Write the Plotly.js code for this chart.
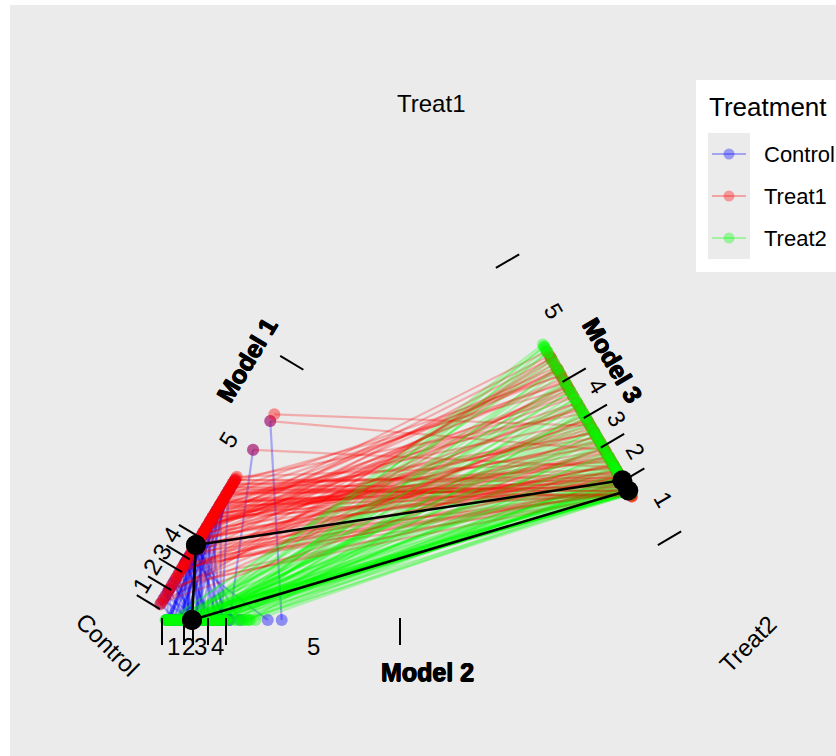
<!DOCTYPE html>
<html><head><meta charset="utf-8">
<script src="https://cdn.plot.ly/plotly-3.0.1.min.js"></script>
<style>html,body{margin:0;padding:0;background:#fff}</style>
</head><body><div id="chart" style="width:836px;height:756px"></div>
<script>
// ---------------- DATA ----------------
const treatments = ['Control', 'Treat1', 'Treat2'];
const models = ['Model 1', 'Model 2', 'Model 3'];
const tickValues = [1, 2, 3, 4, 5];
const tickLabels = ['1', '2', '3', '4', '5'];

// Control subjects: scores on Model 1 and Model 2
const control_m1 = [0.72, 1.35, 2.1, 4.62, 3.3, 4.7, 4.05, 4.3, 4.52, 4.6, 1.9, 4.76, 3.1, 3.9, 4.2, 4.45, 4.68, 4.75, 0.95, 4.56,
  2.35, 3.6, 4.15, 4.4, 4.55, 4.82, 3.45, 4.66, 4.1, 4.58, 4.7, 1.15, 3.85, 5.02, 5.19,
  4.8, 1.5, 4.53, 3.0, 3.65, 4.25, 4.5, 4.72, 1.75, 4.64, 3.2, 3.95, 4.35, 4.62, 4.84, 1.45, 4.59, 2.7, 3.5, 4.0, 4.48, 4.66, 4.78, 3.15, 4.78];
const control_m2 = [1.1, 0.75, 2.3, 1.8, 3.2, 2.6, 0.9, 3.9, 1.4, 4.3, 2.05, 1.25, 3.6, 2.8, 4.52, 1.65, 0.7, 3.0, 2.2, 4.1,
  1.95, 3.4, 4.58, 0.85, 2.7, 1.5, 4.74, 3.75, 2.45, 1.05, 4.2, 3.1, 2.9, 4.52, 4.82,
  0.8, 1.6, 1.0, 2.4, 1.9, 3.3, 2.1, 0.72, 2.95, 1.3, 3.7, 1.75, 4.0, 2.55, 1.15, 0.95, 3.5, 2.25, 1.45, 4.4, 3.05, 1.85, 2.65, 0.88, 4.25];

// Treat1 subjects: scores on Model 1 and Model 3
const treat1_m1 = [4.62, 3.85, 4.71, 2.4, 4.55, 4.8, 1.3, 4.66, 3.2, 4.52,
  4.77, 0.68, 4.59, 4.84, 2.9, 4.7, 4.05, 4.63, 1.9, 4.74,
  4.51, 3.6, 4.82, 4.57, 2.15, 4.68, 4.35, 4.79, 0.95, 4.64,
  4.53, 3.95, 4.86, 4.6, 2.65, 4.73, 4.25, 4.56, 1.55, 4.69,
  4.81, 3.35, 4.65, 4.54, 4.45, 4.76, 2.05, 4.61, 4.83, 3.75,
  4.58, 4.67, 1.1, 4.72, 4.5, 4.15, 4.78, 3.05, 4.62, 4.85,
  2.75, 4.55, 4.7, 4.4, 1.7, 4.75, 4.6, 5.02, 5.19, 5.23,
  4.57, 4.73, 3.5, 4.64, 4.8, 2.3, 4.52, 4.69, 4.0, 4.61,
  4.84, 1.45, 4.56, 4.76, 3.0, 4.66, 4.53, 4.3, 4.71, 4.59,
  0.8, 4.78, 4.63, 3.7, 4.54, 4.82, 2.55, 4.68, 4.5, 4.74];
const treat1_m3 = [1.3, 2.6, 1.45, 3.9, 1.8, 1.26, 4.4, 2.1, 1.6, 3.3,
  1.35, 4.7, 2.4, 1.5, 1.28, 3.7, 1.95, 4.58, 1.4, 2.8,
  4.2, 1.32, 1.7, 3.1, 4.65, 1.55, 2.3, 1.25, 3.55, 1.9,
  4.52, 1.38, 2.05, 4.76, 1.65, 2.95, 1.3, 4.05, 1.48, 2.5,
  1.85, 3.8, 1.27, 4.6, 2.2, 1.42, 3.4, 1.75, 4.3, 1.33,
  2.7, 1.58, 4.68, 1.29, 3.0, 1.95, 4.55, 1.36, 2.15, 3.6,
  1.44, 4.72, 1.62, 2.35, 1.31, 4.45, 1.52, 1.9, 2.4, 3.2,
  3.9, 1.3, 4.6, 2.2, 1.45, 4.35, 3.2, 1.27, 4.7, 2.65,
  1.6, 3.45, 4.5, 1.35, 2.0, 4.1, 1.5, 3.75, 1.29, 4.62,
  2.45, 1.4, 3.0, 1.8, 4.25, 1.33, 2.85, 4.55, 1.7, 3.35];

// Treat2 subjects: scores on Model 2 and Model 3
const treat2_m2 = [1.2, 2.3, 0.7, 3.5, 1.8, 4.6, 2.7, 0.9, 4.1, 1.5,
  3.1, 2.0, 4.52, 1.05, 2.55, 3.8, 0.66, 4.3, 1.65, 2.9,
  4.63, 1.35, 3.3, 2.15, 0.8, 3.95, 1.95, 4.55, 2.45, 1.1,
  3.65, 0.95, 2.8, 4.2, 1.45, 3.0, 4.67, 1.7, 2.25, 0.72,
  3.45, 1.25, 4.45, 2.6, 1.9, 3.75, 0.85, 4.58, 2.05, 1.55,
  3.2, 4.0, 1.0, 2.35, 3.9, 1.75, 4.5, 2.95, 0.75, 3.55,
  1.4, 4.62, 2.5, 3.35, 1.15, 4.15, 2.75, 1.6, 3.85, 4.4,
  2.1, 0.78, 3.6, 1.3, 4.48, 2.65, 1.85, 3.25, 0.92, 4.25,
  1.6, 2.85, 4.56, 1.0, 3.7, 2.2, 0.7, 4.05, 1.5, 3.15,
  4.6, 2.4, 1.2, 3.95, 0.82, 2.95, 4.35, 1.75, 3.5, 4.64];
const treat2_m3 = [1.4, 3.2, 1.3, 2.1, 4.6, 1.55, 1.35, 3.8, 1.7, 4.82,
  2.5, 1.32, 1.9, 4.3, 1.45, 2.9, 1.28, 4.75, 1.6, 3.5,
  1.38, 2.2, 4.5, 1.34, 3.0, 1.8, 4.68, 1.5, 2.7, 1.3,
  4.1, 1.42, 3.6, 1.65, 2.35, 4.8, 1.36, 1.95, 3.35, 1.3,
  4.55, 2.05, 1.48, 3.9, 1.33, 2.6, 4.7, 1.75, 1.4, 3.1,
  1.58, 4.4, 2.25, 1.31, 3.7, 1.85, 4.62, 1.44, 2.8, 1.37,
  4.2, 1.52, 3.45, 2.0, 1.3, 4.78, 1.62, 2.45, 1.39, 4.0,
  1.35, 4.65, 1.5, 2.9, 1.3, 4.2, 1.72, 3.3, 1.4, 2.55,
  4.75, 1.32, 3.85, 1.6, 2.15, 4.45, 1.38, 3.05, 1.9, 4.58,
  1.3, 2.75, 4.0, 1.46, 3.55, 1.34, 2.3, 4.8, 1.55, 3.65];

// group means (first model, second model)
const mean_control = [4.14, 2.39];
const mean_treat1 = [4.14, 1.52];
const mean_treat2 = [2.39, 1.35];

// ---------------- GEOMETRY / SCALES ----------------
const corners = { Control: [151, 620], Treat1: [431, 153], Treat2: [704, 620] };
const axisDef = {
  'Model 1': { from: 'Control', to: 'Treat1', breaks: [0.0257, 0.0661, 0.1047, 0.1322, 0.1763, 0.5381] },
  'Model 2': { from: 'Control', to: 'Treat2', breaks: [0.0199, 0.0597, 0.0759, 0.1031, 0.1356, 0.4503] },
  'Model 3': { from: 'Treat2', to: 'Treat1', breaks: [0.1627, 0.2976, 0.3715, 0.4344, 0.5120, 0.7560] }
};
const cen = [(corners.Control[0] + corners.Treat1[0] + corners.Treat2[0]) / 3,
             (corners.Control[1] + corners.Treat1[1] + corners.Treat2[1]) / 3];

function geom(name) {
  const a = axisDef[name];
  const s = corners[a.from], e = corners[a.to];
  const dx = e[0] - s[0], dy = e[1] - s[1];
  const L = Math.hypot(dx, dy);
  const u = [dx / L, dy / L];
  let n = [-u[1], u[0]];
  const mid = [(s[0] + e[0]) / 2, (s[1] + e[1]) / 2];
  if ((mid[0] - cen[0]) * n[0] + (mid[1] - cen[1]) * n[1] < 0) n = [-n[0], -n[1]];
  let ang = Math.atan2(u[1], u[0]) * 180 / Math.PI;
  if (ang < -90) ang += 180;
  if (ang > 90) ang -= 180;
  return { s, u, n, L, mid, b: a.breaks, angle: ang };
}
function frac(b, v) {
  let i = Math.floor(v - 0.5);
  i = Math.max(0, Math.min(4, i));
  const t = v - 0.5 - i;
  return b[i] + t * (b[i + 1] - b[i]);
}
function pt(name, v, off) {
  off = off || 0;
  const g = geom(name);
  const f = frac(g.b, v) * g.L;
  return [g.s[0] + g.u[0] * f + g.n[0] * off, g.s[1] + g.u[1] * f + g.n[1] * off];
}

// ---------------- TRACES ----------------
const colors = { Control: '0,0,255', Treat1: '255,0,0', Treat2: '0,255,0' };
const lineAlpha = { Control: 0.3, Treat1: 0.27, Treat2: 0.27 };
const groups = [
  { t: 'Control', a: 'Model 1', b: 'Model 2', va: control_m1, vb: control_m2, mean: mean_control },
  { t: 'Treat1', a: 'Model 1', b: 'Model 3', va: treat1_m1, vb: treat1_m3, mean: mean_treat1 },
  { t: 'Treat2', a: 'Model 2', b: 'Model 3', va: treat2_m2, vb: treat2_m3, mean: mean_treat2 }
];
const traces = [];
// subject lines, drawn in subject order (groups interleaved)
const maxN = Math.max(...groups.map(g => Math.min(g.va.length, g.vb.length)));
for (let i = 0; i < maxN; i++) {
  groups.forEach(g => {
    if (i >= Math.min(g.va.length, g.vb.length)) return;
    const p = pt(g.a, g.va[i]), q = pt(g.b, g.vb[i]);
    traces.push({ type: 'scatter', mode: 'lines', x: [p[0], q[0]], y: [p[1], q[1]],
      line: { color: 'rgba(' + colors[g.t] + ',' + lineAlpha[g.t] + ')', width: 2.2 }, hoverinfo: 'skip', showlegend: false });
  });
}
// subject points
groups.forEach(g => {
  const xs = [], ys = [];
  const n = Math.min(g.va.length, g.vb.length);
  for (let i = 0; i < n; i++) {
    const p = pt(g.a, g.va[i]), q = pt(g.b, g.vb[i]);
    xs.push(p[0], q[0]); ys.push(p[1], q[1]);
  }
  traces.push({ type: 'scatter', mode: 'markers', x: xs, y: ys, name: g.t,
    marker: { color: 'rgba(' + colors[g.t] + ',0.4)', size: 12, line: { width: 0 } }, hoverinfo: 'skip', showlegend: false });
});
// axis ticks (bin boundaries)
const tkx = [], tky = [];
models.forEach(m => {
  [0.5, 1.5, 2.5, 3.5, 4.5, 5.5].forEach(v => {
    const a = pt(m, v, -2), b = pt(m, v, 25);
    tkx.push(a[0], b[0], null); tky.push(a[1], b[1], null);
  });
});
traces.push({ type: 'scatter', mode: 'lines', x: tkx, y: tky, line: { color: '#000', width: 2 }, hoverinfo: 'skip', showlegend: false });
// group means
groups.forEach(g => {
  const p = pt(g.a, g.mean[0]), q = pt(g.b, g.mean[1]);
  traces.push({ type: 'scatter', mode: 'lines+markers', x: [p[0], q[0]], y: [p[1], q[1]],
    line: { color: '#000', width: 2.5 }, marker: { color: '#000', size: 20 }, hoverinfo: 'skip', showlegend: false });
});

// ---------------- LEGEND (drawn) ----------------
const legendKeyY = [154, 196, 238];
treatments.forEach((t, i) => {
  traces.push({ type: 'scatter', mode: 'lines', x: [712, 746], y: [legendKeyY[i], legendKeyY[i]],
    line: { color: 'rgba(' + colors[t] + ',0.3)', width: 2 }, hoverinfo: 'skip', showlegend: false });
  traces.push({ type: 'scatter', mode: 'markers', x: [729], y: [legendKeyY[i]],
    marker: { color: 'rgba(' + colors[t] + ',0.35)', size: 11 }, hoverinfo: 'skip', showlegend: false });
});

// ---------------- ANNOTATIONS ----------------
const FONT = 'Liberation Sans, Arial, Helvetica, sans-serif';
const ann = [];
models.forEach(m => {
  const g = geom(m);
  tickValues.forEach((v, k) => {
    const p = pt(m, v, 26);
    ann.push({ xref: 'x', yref: 'y', x: p[0], y: p[1], text: tickLabels[k], showarrow: false, textangle: g.angle,
      xanchor: 'center', yanchor: 'middle', borderpad: 0, font: { family: FONT, size: 24, color: '#000' } });
  });
  const mp = [g.mid[0] + g.n[0] * 52, g.mid[1] + g.n[1] * 52];
  ann.push({ xref: 'x', yref: 'y', x: mp[0], y: mp[1], text: '<b>' + m + '</b>', showarrow: false, textangle: g.angle,
    xanchor: 'center', yanchor: 'middle',
    font: { family: FONT, size: 25, color: '#000', shadow: '0.6px 0px 0px #000, -0.6px 0px 0px #000, 0px 0.6px 0px #000' } });
});
const cornerAngle = { Control: 45, Treat1: 0, Treat2: -45 };
treatments.forEach(t => {
  const c = corners[t];
  const dx = c[0] - cen[0], dy = c[1] - cen[1];
  const d = Math.hypot(dx, dy);
  ann.push({ xref: 'x', yref: 'y', x: c[0] + dx / d * 50, y: c[1] + dy / d * 50, text: t, showarrow: false,
    textangle: cornerAngle[t], xanchor: 'center', yanchor: 'middle', font: { family: FONT, size: 24, color: '#000' } });
});
// legend texts
ann.push({ xref: 'x', yref: 'y', x: 707, y: 107, text: 'Treatment', showarrow: false, xanchor: 'left', yanchor: 'middle',
  font: { family: FONT, size: 26, color: '#000' } });
treatments.forEach((t, i) => {
  ann.push({ xref: 'x', yref: 'y', x: 762, y: legendKeyY[i], text: t, showarrow: false, xanchor: 'left', yanchor: 'middle',
    font: { family: FONT, size: 22, color: '#000' } });
});

const shapes = [
  { type: 'rect', xref: 'x', yref: 'y', x0: 696, x1: 850, y0: 80, y1: 272, fillcolor: '#FFFFFF', line: { width: 0 }, layer: 'below' },
  { type: 'rect', xref: 'x', yref: 'y', x0: 708, x1: 750, y0: 133, y1: 259, fillcolor: '#EBEBEB', line: { width: 0 }, layer: 'below' }
];

const layout = {
  width: 836, height: 756,
  margin: { l: 10, r: 0, t: 5, b: 0, pad: 0 },
  paper_bgcolor: '#FFFFFF', plot_bgcolor: '#EBEBEB',
  xaxis: { range: [10, 836], visible: false, fixedrange: true },
  yaxis: { range: [756, 5], visible: false, fixedrange: true },
  showlegend: false,
  font: { family: FONT },
  shapes: shapes,
  annotations: ann
};
Plotly.newPlot('chart', traces, layout, { displayModeBar: false, staticPlot: true });
</script>
</body></html>
